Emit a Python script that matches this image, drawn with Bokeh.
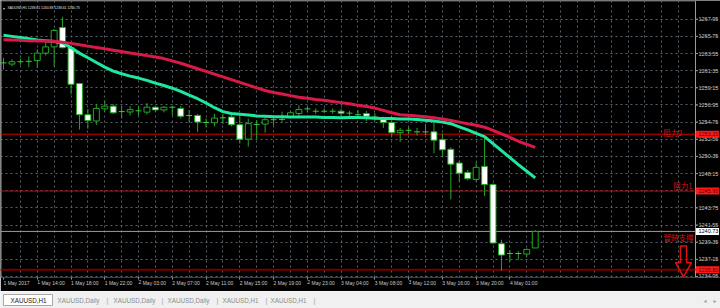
import numpy as np
from bokeh.plotting import figure
from bokeh.models import FixedTicker, LinearAxis, Range1d, Label, Grid
from bokeh.layouts import column
from bokeh.embed import file_html
from bokeh.resources import INLINE
from bokeh.core.properties import value

# ---------------- data ----------------
opens = [1262.35, 1262.20, 1262.50, 1262.55, 1262.65, 1263.60, 1264.40, 1266.90, 1264.30, 1259.70,
         1255.70, 1254.90, 1256.45, 1256.80, 1256.10, 1256.05, 1256.20, 1256.03, 1256.66, 1256.32,
         1256.66, 1256.50, 1255.60, 1255.60, 1254.70, 1254.67, 1255.30, 1255.40, 1254.42, 1252.56,
         1254.46, 1254.50, 1255.06, 1255.10, 1255.40, 1255.85, 1256.45, 1256.15, 1256.15, 1256.15,
         1256.15, 1255.90, 1255.70, 1255.85, 1255.40, 1255.20, 1254.70, 1253.40, 1253.70, 1253.50,
         1253.50, 1253.50, 1252.50, 1251.26, 1249.50, 1248.30, 1247.40, 1249.07, 1246.75, 1239.15,
         1237.90, 1237.90, 1237.83, 1238.61]
highs = [1263.00, 1262.80, 1262.90, 1263.20, 1264.10, 1265.00, 1266.70, 1268.25, 1264.50, 1259.80,
         1256.45, 1257.10, 1257.50, 1257.10, 1256.80, 1256.80, 1256.80, 1257.20, 1256.80, 1256.80,
         1256.80, 1256.80, 1256.30, 1255.80, 1255.20, 1255.80, 1255.80, 1255.80, 1255.50, 1255.20,
         1255.00, 1255.60, 1255.50, 1256.10, 1256.20, 1256.90, 1256.80, 1256.50, 1256.50, 1256.50,
         1256.50, 1256.20, 1256.30, 1256.20, 1255.90, 1255.45, 1255.00, 1254.00, 1254.10, 1254.00,
         1254.50, 1254.80, 1253.30, 1251.50, 1249.80, 1248.60, 1249.60, 1252.90, 1246.90, 1239.67,
         1238.30, 1238.20, 1238.55, 1240.88]
lows = [1261.50, 1261.90, 1262.10, 1261.80, 1261.70, 1263.30, 1261.90, 1264.20, 1258.30, 1253.80,
        1253.90, 1254.40, 1256.10, 1255.80, 1255.20, 1255.60, 1255.60, 1255.70, 1256.10, 1256.00,
        1255.60, 1255.20, 1254.70, 1253.50, 1254.10, 1254.20, 1254.50, 1254.20, 1252.00, 1251.60,
        1252.60, 1253.40, 1254.30, 1254.80, 1255.20, 1255.50, 1256.00, 1255.80, 1255.90, 1255.80,
        1255.50, 1255.50, 1255.20, 1254.90, 1254.90, 1254.00, 1252.90, 1252.20, 1253.20, 1253.00,
        1253.10, 1250.75, 1250.34, 1244.85, 1247.10, 1247.30, 1247.10, 1245.28, 1239.10, 1235.70,
        1236.85, 1237.10, 1237.50, 1238.61]
closes = [1262.35, 1262.50, 1262.50, 1262.55, 1263.60, 1264.40, 1266.50, 1264.30, 1259.60, 1255.70,
          1254.95, 1256.50, 1256.80, 1255.95, 1256.10, 1256.35, 1256.20, 1256.66, 1256.32, 1256.66,
          1256.66, 1255.50, 1255.60, 1254.76, 1254.70, 1255.27, 1255.30, 1254.42, 1252.56, 1254.55,
          1254.46, 1255.06, 1255.06, 1255.10, 1255.95, 1256.36, 1256.45, 1256.15, 1256.15, 1256.15,
          1255.90, 1255.90, 1255.70, 1255.50, 1255.40, 1254.70, 1253.40, 1253.70, 1253.70, 1253.50,
          1253.50, 1252.44, 1251.20, 1249.36, 1248.20, 1247.50, 1248.95, 1246.75, 1239.25, 1237.70,
          1237.90, 1237.90, 1238.42, 1240.73]
ma_slow = [1265.30, 1265.27, 1265.24, 1265.20, 1265.17, 1265.15, 1265.12, 1265.00, 1264.85, 1264.68,
           1264.50, 1264.33, 1264.15, 1263.98, 1263.80, 1263.62, 1263.45, 1263.28, 1263.10, 1262.90,
           1262.60, 1262.30, 1261.95, 1261.60, 1261.25, 1260.90, 1260.55, 1260.20, 1259.85, 1259.50,
           1259.15, 1258.80, 1258.55, 1258.35, 1258.15, 1257.95, 1257.80, 1257.65, 1257.55, 1257.40,
           1257.25, 1257.10, 1256.90, 1256.75, 1256.55, 1256.25, 1255.95, 1255.70, 1255.62, 1255.55,
           1255.45, 1255.30, 1255.15, 1254.97, 1254.75, 1254.55, 1254.35, 1254.10, 1253.70, 1253.25,
           1252.80, 1252.30, 1251.90, 1251.50]
ma_fast = [1265.90, 1265.75, 1265.60, 1265.45, 1265.30, 1265.20, 1265.10, 1264.90, 1264.30, 1263.60,
           1263.00, 1262.40, 1261.80, 1261.30, 1260.95, 1260.65, 1260.40, 1260.10, 1259.75, 1259.45,
           1259.10, 1258.70, 1258.20, 1257.75, 1257.20, 1256.60, 1256.10, 1255.85, 1255.75, 1255.65,
           1255.55, 1255.50, 1255.45, 1255.45, 1255.40, 1255.40, 1255.40, 1255.40, 1255.35, 1255.35,
           1255.30, 1255.35, 1255.35, 1255.30, 1255.25, 1255.20, 1255.20, 1255.15, 1255.15, 1255.10,
           1255.00, 1254.90, 1254.75, 1254.55, 1254.15, 1253.75, 1253.30, 1252.90, 1252.00, 1251.10,
           1250.20, 1249.30, 1248.45, 1247.60]

time_tick_bars = [0, 4, 8, 12, 16, 20, 24, 28, 32, 36, 40, 44, 48, 52, 56, 60]
time_tick_labels = ["1 May 2017", "1 May 14:00", "1 May 18:00", "1 May 22:00", "2 May 03:00",
                    "2 May 07:00", "2 May 11:00", "2 May 15:00", "2 May 19:00", "2 May 23:00",
                    "3 May 04:00", "3 May 08:00", "3 May 12:00", "3 May 16:00", "3 May 20:00",
                    "4 May 01:00"]
price_ticks = [1234.95, 1237.15, 1239.35, 1241.55, 1243.75, 1245.95, 1248.15, 1250.35,
               1252.55, 1254.75, 1256.95, 1259.15, 1261.35, 1263.55, 1265.75, 1267.95]

level_prices = [1253.20, 1245.90, 1235.80]
level_names = ["阻力2", "阻力1", "暫時支撐"]
bid_price = 1240.73
title_text = "XAUUSD,H1  1238.61 1240.88 1238.61 1240.73"
tab_names = ["XAUUSD,H1", "XAUUSD,Daily", "XAUUSD,Daily", "XAUUSD,Daily", "XAUUSD,H1", "XAUUSD,H1"]

# ---------------- geometry / styling ----------------
BAR_PX = 8.44            # pixels per bar
FIRST_PX = 3.0           # pixel centre of the first bar
CHART_W_PX = 695         # right edge of the candle area (price scale to its right)
def px2bar(px):
    return (px - FIRST_PX) / BAR_PX

X_START, X_END = px2bar(0), px2bar(720)
X_EDGE = px2bar(CHART_W_PX)
Y_START, Y_END = 1234.82, 1270.35

BG = "black"
WICK = "#22a822"
GRIDC = "#56636f"
LBLC = "#c8c8c8"
EDGEC = "#9a9a9a"
FONT = "Liberation Sans"

n = len(closes)
idx = np.arange(n)
o = np.array(opens); c = np.array(closes); h = np.array(highs); l = np.array(lows)
doji = o == c
bull = c > o
bear = c < o

p = figure(width=720, height=291, x_range=Range1d(X_START, X_END), y_range=Range1d(Y_START, Y_END),
           output_backend="svg", toolbar_location=None, x_axis_type=None, y_axis_type=None,
           background_fill_color=BG, border_fill_color=BG,
           min_border_left=0, min_border_top=0, min_border_right=0, min_border_bottom=10)
p.outline_line_color = None

# grids limited to the candle area
p.add_layout(Grid(dimension=0, ticker=FixedTicker(ticks=list(range(2, 82, 2))), grid_line_color=GRIDC,
                  grid_line_dash="2 3", grid_line_width=1, bounds=(Y_START, Y_END)))
p.add_layout(Grid(dimension=1, ticker=FixedTicker(ticks=price_ticks), grid_line_color=GRIDC,
                  grid_line_dash="2 3", grid_line_width=1, bounds=(X_START, X_EDGE)))

# time axis: a tiny negative orientation makes the labels start at their tick, as in MT4
xax = LinearAxis(ticker=FixedTicker(ticks=time_tick_bars),
                 major_label_overrides={b: s for b, s in zip(time_tick_bars, time_tick_labels)},
                 major_label_orientation=-0.0001,
                 major_label_text_font_size="5px", major_label_text_color=LBLC,
                 major_label_text_font=FONT,
                 axis_line_color=None, major_tick_line_color=EDGEC, major_tick_out=2,
                 major_tick_in=0, minor_tick_line_color=None, major_label_standoff=3)
p.add_layout(xax, "below")

# frame edges of the candle area
p.segment([X_START + 0.06, X_EDGE], [Y_START, Y_START], [X_START + 0.06, X_EDGE], [Y_END, Y_END],
          color=EDGEC, line_width=1)
p.segment([X_START], [Y_END - 0.06], [X_EDGE], [Y_END - 0.06], color="#6a6a6a", line_width=1)

# price scale: ticks and labels
p.segment([X_EDGE] * len(price_ticks), price_ticks, [px2bar(CHART_W_PX + 2.5)] * len(price_ticks),
          price_ticks, color=EDGEC, line_width=1)
p.text(x=[px2bar(CHART_W_PX + 3)] * len(price_ticks), y=price_ticks,
       text=[f"{v:.2f}" for v in price_ticks], text_font=value(FONT), text_font_size="5.5px",
       text_color=LBLC, text_baseline="middle", text_align="left")

# level lines
level_colors = ["#d40000", "#c00000", "#7a0000"]
level_widths = [1, 1, 2]
for pr, col, w in zip(level_prices, level_colors, level_widths):
    p.segment([X_START], [pr], [X_EDGE], [pr], color=col, line_width=w)
p.segment([X_START], [bid_price], [X_EDGE], [bid_price], color="#9a9a9a", line_width=1)

# candles
p.segment(idx, h, idx, l, color=WICK, line_width=1)
bw = 0.7
p.vbar(idx[bull], bw, o[bull], c[bull], fill_color="black", line_color=WICK, line_width=1)
p.vbar(idx[bear], bw, c[bear], o[bear], fill_color="white", line_color=WICK, line_width=1)
p.segment(idx[doji] - bw / 2, c[doji], idx[doji] + bw / 2, c[doji], color="#3ccc3c", line_width=1)

# moving averages
p.line(idx, ma_fast, color="#1ee8a0", line_width=3)
p.line(idx, ma_slow, color="#d81a48", line_width=3)

# price tags on the scale
tag_x = px2bar(CHART_W_PX + 12)
p.rect(x=[tag_x] * len(level_prices), y=level_prices, width=23, height=7, width_units="screen",
       height_units="screen", fill_color="#ff1a1a", line_color=None)
p.text(x=[px2bar(CHART_W_PX + 3)] * len(level_prices), y=level_prices,
       text=[f"{v:.2f}" for v in level_prices], text_font=value(FONT), text_font_size="5.5px",
       text_color="#5a0000", text_baseline="middle", text_align="left")
p.rect(x=[tag_x], y=[bid_price], width=23, height=7, width_units="screen", height_units="screen",
       fill_color="white", line_color=None)
p.text(x=[px2bar(CHART_W_PX + 3)], y=[bid_price], text=[f"{bid_price:.2f}"], text_font=value(FONT),
       text_font_size="5.5px", text_color="black", text_baseline="middle", text_align="left")

# chinese annotations
ann_x = [px2bar(682), px2bar(692), px2bar(693)]
ann_y = [1253.45, 1246.58, 1240.0]
for name, ax_, ay in zip(level_names, ann_x, ann_y):
    p.add_layout(Label(x=ax_, y=ay, text=name, text_font_size="7.5px", text_font="Noto Sans CJK TC",
                       text_color="#dd1515", text_align="right", text_baseline="middle"))

# hollow down arrow
arrow_x = px2bar(683)
shaft_top, head_top, tip = 1238.87, 1236.72, 1234.9
sw, hw = 3.1 / BAR_PX, 8.0 / BAR_PX
p.patch([arrow_x - sw, arrow_x + sw, arrow_x + sw, arrow_x + hw, arrow_x, arrow_x - hw, arrow_x - sw],
        [shaft_top, shaft_top, head_top, head_top, tip, head_top, head_top],
        fill_color=None, line_color="#e01010", line_width=1.5)

# title
p.add_layout(Label(x=px2bar(2), y=1269.35, text="▾", text_font_size="4px", text_color=LBLC,
                   text_baseline="middle"))
p.add_layout(Label(x=px2bar(7), y=1269.35, text=title_text, text_font_size="3.4px", text_font=FONT,
                   text_color="#e0e0e0", text_baseline="middle"))

# ---------------- tab bar ----------------
t = figure(width=720, height=17, x_range=Range1d(0, 720), y_range=Range1d(0, 17),
           output_backend="svg", toolbar_location=None, x_axis_type=None, y_axis_type=None,
           background_fill_color="#f0f0f0", border_fill_color="#f0f0f0", min_border=0)
t.outline_line_color = None
tab_x = [10, 57, 113, 167, 222, 270]
sep_x = [106, 161, 216, 265, 313]
t.quad(left=3, right=52, bottom=3, top=14, fill_color="white", line_color="#a8a8a8")
t.text(x=tab_x, y=[8.5] * len(tab_x), text=tab_names, text_font=value(FONT), text_font_size="6.3px",
       text_baseline="middle", text_color=["#202020"] + ["#8c8c8c"] * (len(tab_x) - 1))
t.text(x=sep_x, y=[8.5] * len(sep_x), text=["|"] * len(sep_x), text_font=value(FONT),
       text_font_size="7px", text_baseline="middle", text_color="#a0a0a0")
t.text(x=[703, 713], y=[8.5, 8.5], text=["◂", "▸"], text_font=value("DejaVu Sans"),
       text_font_size="6px", text_baseline="middle", text_color="#a0a0a0")

layout = column(p, t, spacing=0)
open("out.html", "w").write(file_html(layout, INLINE))
